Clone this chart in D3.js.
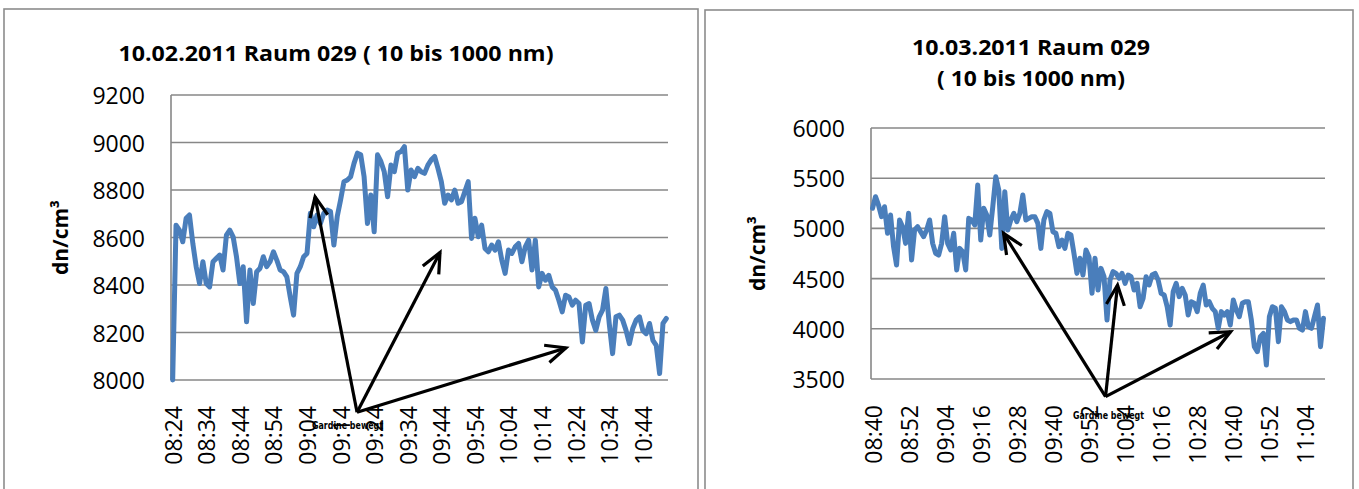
<!DOCTYPE html>
<html><head><meta charset="utf-8">
<script src="https://cdnjs.cloudflare.com/ajax/libs/d3/7.8.5/d3.min.js"></script>
<style>body{margin:0;background:#fff}svg{display:block}</style>
</head><body>
<script>
// ---------- data ----------
const leftTitle = "10.02.2011 Raum 029 ( 10 bis 1000 nm)";
const rightTitle = ["10.03.2011 Raum 029", "( 10 bis 1000 nm)"];
const yLabel = "dn/cm³";
const noteText = "Gardine bewegt";

const leftStart = "08:24";
const leftValues = [8000,8652,8631,8582,8681,8695,8575,8477,8406,8498,8406,8392,8498,8512,8526,8463,8610,8631,8603,8519,
8406,8477,8245,8463,8322,8456,8470,8519,8477,8498,8540,8505,8463,8456,8434,8350,8273,8449,8477,8519,
8533,8702,8645,8695,8659,8702,8716,8709,8568,8688,8758,8835,8842,8856,8912,8955,8948,8856,8659,8779,
8624,8948,8920,8877,8772,8905,8877,8955,8962,8983,8800,8884,8856,8891,8877,8870,8905,8927,8941,8891,
8835,8744,8779,8758,8800,8744,8751,8793,8835,8596,8681,8603,8652,8554,8540,8568,8547,8582,8505,8449,
8547,8533,8561,8575,8498,8561,8589,8463,8589,8392,8449,8420,8441,8392,8378,8336,8287,8357,8350,8315,
8336,8322,8160,8315,8322,8252,8209,8266,8294,8385,8238,8111,8266,8273,8252,8209,8153,8217,8252,8266,
8209,8195,8238,8167,8146,8027,8238,8259];
const leftTickLabels = ["08:24","08:34","08:44","08:54","09:04","09:14","09:24","09:34","09:44","09:54","10:04","10:14","10:24","10:34","10:44"];
const leftYTicks = [8000,8200,8400,8600,8800,9000,9200];
// annotation arrows: [categoryIndex, value]
const leftArrowFrom = [54.9, 7864];
const leftArrowTo = [[42.4, 8771],[79.6, 8537],[117.1, 8135]];

const rightStart = "08:40";
const rightValues = [5200,5316,5233,5117,5216,4951,5133,4818,4635,5084,5017,4851,5150,4685,4984,5017,4967,4918,4984,5084,
4851,4752,4735,4851,5117,4851,4785,4951,4586,4801,4768,4586,5100,5084,5034,5432,4884,5200,5133,4934,
5216,5515,5382,4801,5366,4984,5084,5150,5067,5150,5333,5084,5100,5117,5117,5050,4801,5084,5167,5150,
4967,4951,4818,4884,4801,4951,4934,4752,4552,4702,4536,4785,4718,4353,4702,4386,4602,4519,4088,4486,
4569,4552,4503,4552,4453,4536,4519,4386,4453,4220,4303,4519,4436,4536,4552,4486,4353,4337,4220,4038,
4370,4453,4320,4403,4337,4137,4270,4254,4171,4353,4436,4237,4270,4204,4171,4005,4171,4137,4171,4038,
4287,4187,4121,4254,4270,4270,4088,3822,3772,3922,3955,3639,4121,4220,4204,3872,4220,4171,4088,4071,
4088,4088,4005,3988,4171,4021,4005,4121,4237,3822,4104];
const rightTickLabels = ["08:40","08:52","09:04","09:16","09:28","09:40","09:52","10:04","10:16","10:28","10:40","10:52","11:04"];
const rightYTicks = [3500,4000,4500,5000,5500,6000];
const rightArrowFrom = [77.5, 3324];
const rightArrowTo = [[43.6, 4951],[81.5, 4436],[119.1, 3971]];

// ---------- helpers ----------
function minuteLabels(start, n) {
  const [h, m] = start.split(":").map(Number);
  const out = [];
  for (let k = 0; k < n; k++) {
    const t = h * 60 + m + k;
    out.push(String(Math.floor(t / 60)).padStart(2, "0") + ":" + String(t % 60).padStart(2, "0"));
  }
  return out;
}

const W = 1359, H = 489;
const svg = d3.select("body").append("svg").attr("width", W).attr("height", H);
const defs = svg.append("defs");
defs.append("marker").attr("id", "openArrow")
  .attr("markerUnits", "userSpaceOnUse").attr("markerWidth", 30).attr("markerHeight", 30)
  .attr("viewBox", "-25 -15 30 30").attr("refX", 0).attr("refY", 0).attr("orient", "auto")
  .append("path").attr("d", "M-20,-9 L0,0 L-20,9").attr("fill", "none")
  .attr("stroke", "#000").attr("stroke-width", 3.2).attr("stroke-linejoin", "miter");

const TICK_FONT = "'Open Sans', 'DejaVu Sans', sans-serif";
const GRID = "#878787";

function drawChart(cfg) {
  const g = svg.append("g");
  // panel border
  g.append("rect").attr("x", cfg.panel[0]).attr("y", cfg.panel[1])
    .attr("width", cfg.panel[2] - cfg.panel[0]).attr("height", 600)
    .attr("fill", "#fff").attr("stroke", "#8c8c8c").attr("stroke-width", 1.6);

  const cats = minuteLabels(cfg.start, cfg.values.length);
  const x = d3.scaleBand().domain(cats).range([cfg.plot.x0, cfg.plot.x1]).padding(0);
  const idx = d3.scaleLinear().domain([0, cats.length]).range([cfg.plot.x0, cfg.plot.x1]);
  const y = d3.scaleLinear().domain(cfg.yDomain).range([cfg.plot.y1, cfg.plot.y0]);
  const cx = c => x(c) + x.bandwidth() / 2;

  // gridlines
  g.append("g").selectAll("line").data(cfg.yTicks).join("line")
    .attr("x1", cfg.plot.x0).attr("x2", cfg.plot.x1)
    .attr("y1", d => y(d)).attr("y2", d => y(d))
    .attr("stroke", GRID).attr("stroke-width", 1.6);
  // left axis line
  g.append("line").attr("x1", cfg.plot.x0).attr("x2", cfg.plot.x0)
    .attr("y1", y(cfg.yDomain[1])).attr("y2", y(cfg.yDomain[0]))
    .attr("stroke", GRID).attr("stroke-width", 1.6);

  // y tick labels
  g.append("g").selectAll("text").data(cfg.yTicks).join("text")
    .attr("x", cfg.plot.x0 - 26).attr("y", d => y(d))
    .attr("text-anchor", "end").attr("dominant-baseline", "central")
    .attr("font-family", TICK_FONT).attr("font-size", cfg.tickSize).attr("fill", "#000")
    .text(d => d);

  // x tick labels (rotated)
  g.append("g").selectAll("text").data(cfg.xTicks).join("text")
    .attr("transform", d => `translate(${cx(d)},${cfg.plot.y1 + 26}) rotate(-90)`)
    .attr("text-anchor", "end").attr("dominant-baseline", "central")
    .attr("font-family", TICK_FONT).attr("font-size", cfg.tickSize).attr("fill", "#000")
    .text(d => d);

  // y axis title
  g.append("text")
    .attr("transform", `translate(${cfg.yTitlePos[0]},${(y(cfg.yDomain[0]) + y(cfg.yDomain[1])) / 2}) rotate(-90)`)
    .attr("text-anchor", "middle").attr("dominant-baseline", "central")
    .attr("font-family", TICK_FONT).attr("font-weight", "bold").attr("font-size", 21)
    .text(yLabel);

  // title
  cfg.title.forEach((t, k) => {
    g.append("text").attr("x", cfg.titlePos[0]).attr("y", cfg.titlePos[1] + k * 31)
      .attr("text-anchor", "middle").attr("font-family", TICK_FONT)
      .attr("font-weight", "bold").attr("font-size", 21)
      .attr("textLength", cfg.titleLen[k]).attr("lengthAdjust", "spacingAndGlyphs")
      .text(t);
  });

  // series line
  const line = d3.line().x((d, i) => cx(cats[i])).y(d => y(d));
  g.append("path").datum(cfg.values).attr("d", line)
    .attr("fill", "none").attr("stroke", "#4a7ebb").attr("stroke-width", 5)
    .attr("stroke-linejoin", "round").attr("stroke-linecap", "round");

  // arrows
  const ax = d => idx(d[0] + 0.5);
  cfg.arrowTo.forEach(t => {
    g.append("line").attr("x1", ax(cfg.arrowFrom)).attr("y1", y(cfg.arrowFrom[1]))
      .attr("x2", ax(t)).attr("y2", y(t[1]))
      .attr("stroke", "#000").attr("stroke-width", 3.2).attr("marker-end", "url(#openArrow)");
  });
  g.append("text").attr("x", cfg.notePos[0]).attr("y", cfg.notePos[1])
    .attr("font-family", "'DejaVu Sans', sans-serif").attr("font-size", 11).attr("font-weight", "bold")
    .attr("textLength", 71).attr("lengthAdjust", "spacingAndGlyphs")
    .text(noteText);
}

drawChart({
  panel: [4, 9, 698],
  start: leftStart, values: leftValues, xTicks: leftTickLabels, yTicks: leftYTicks,
  yDomain: [8000, 9200], plot: {x0: 171, x1: 668, y0: 95, y1: 380},
  tickSize: 23, yTitlePos: [60], title: [leftTitle], titlePos: [336, 61], titleLen: [435],
  arrowFrom: leftArrowFrom, arrowTo: leftArrowTo, notePos: [312, 429]
});
drawChart({
  panel: [705, 10, 1353],
  start: rightStart, values: rightValues, xTicks: rightTickLabels, yTicks: rightYTicks,
  yDomain: [3500, 6000], plot: {x0: 871, x1: 1325, y0: 128, y1: 379},
  tickSize: 23, yTitlePos: [757], title: rightTitle, titlePos: [1031, 55], titleLen: [238, 188],
  arrowFrom: rightArrowFrom, arrowTo: rightArrowTo, notePos: [1073, 419]
});
</script>
</body></html>
